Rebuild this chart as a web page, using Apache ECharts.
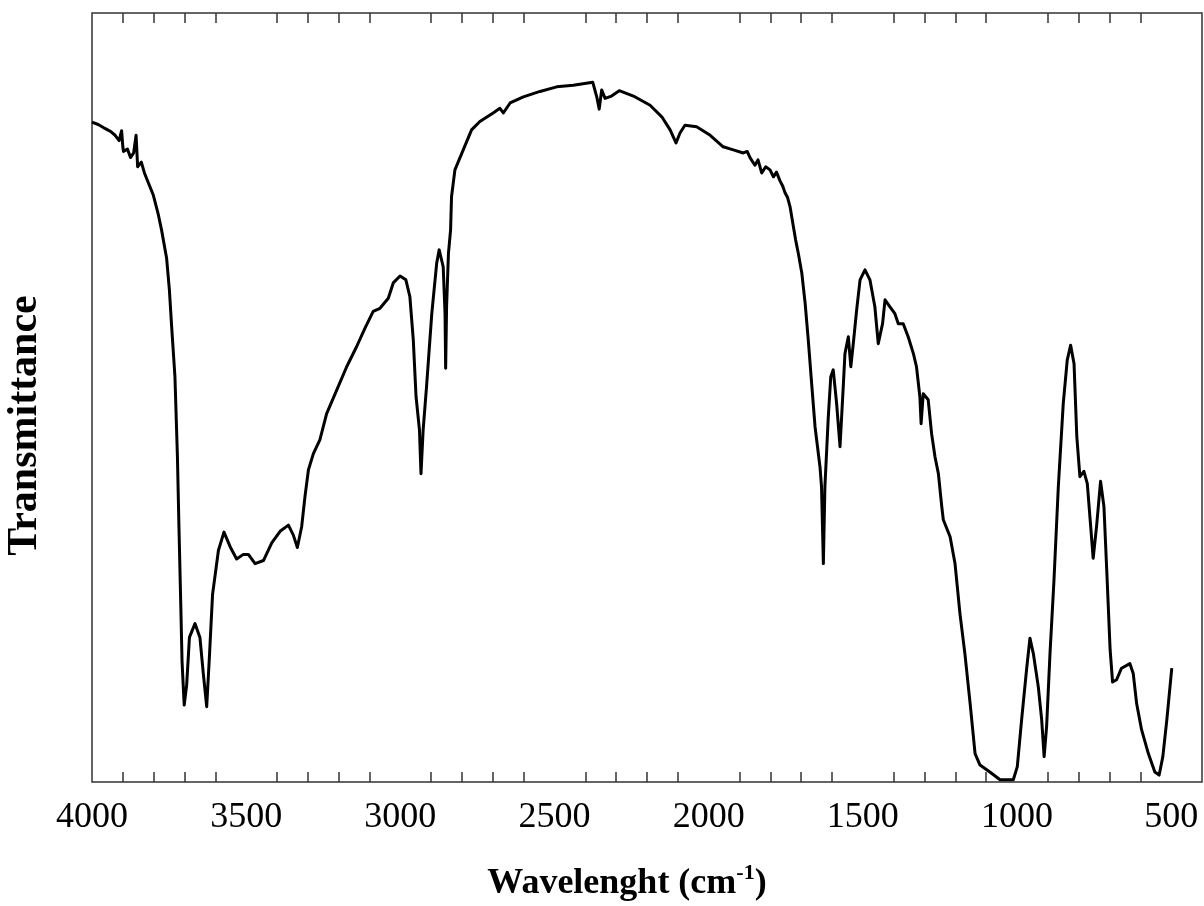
<!DOCTYPE html>
<html>
<head>
<meta charset="utf-8">
<script src="https://cdn.jsdelivr.net/npm/echarts@6/dist/echarts.min.js"></script>
<style>
  html, body { margin: 0; padding: 0; background: #fff; }
  #chart { width: 1204px; height: 906px; }
</style>
</head>
<body>
<div id="chart"></div>
<script>
// Wavenumbers (cm-1)
const waveNumbers = [
  4000, 3980, 3963, 3940, 3925, 3912, 3904, 3900, 3898, 3885, 3875, 3865, 3857, 3852, 3840, 3830,
  3817, 3801, 3785, 3774, 3758, 3749, 3742, 3731, 3723, 3718, 3712, 3708, 3701, 3693, 3684, 3666,
  3650, 3639, 3628, 3620, 3609, 3590, 3572, 3552, 3531, 3509, 3493, 3471, 3444, 3417, 3390, 3363,
  3347, 3334, 3320, 3309, 3298, 3282, 3261, 3239, 3206, 3174, 3142, 3115, 3088, 3066, 3039, 3023,
  3001, 2982, 2969, 2958, 2949, 2938, 2933, 2926, 2915, 2898, 2882, 2874, 2861, 2855, 2853, 2850,
  2844, 2837, 2834, 2823, 2796, 2769, 2742, 2699, 2677, 2666, 2644, 2601, 2547, 2493, 2439, 2376,
  2363, 2355, 2347, 2336, 2315, 2290, 2244, 2190, 2152, 2125, 2106, 2093, 2077, 2039, 1995, 1953,
  1920, 1888, 1875, 1866, 1850, 1840, 1828, 1815, 1801, 1790, 1780, 1769, 1760, 1752, 1744, 1736,
  1726, 1718, 1709, 1698, 1687, 1677, 1666, 1655, 1639, 1634, 1628, 1623, 1612, 1604, 1596, 1585,
  1574, 1563, 1558, 1547, 1539, 1531, 1520, 1509, 1493, 1477, 1461, 1450, 1436, 1428, 1412, 1396,
  1385, 1369, 1353, 1336, 1326, 1315, 1311, 1304, 1288, 1277, 1266, 1255, 1244, 1239, 1217, 1201,
  1185, 1169, 1152, 1136, 1120, 1088, 1055, 1012, 999, 985, 969, 958, 947, 931, 920, 912,
  904, 893, 880, 866, 850, 837, 826, 815, 806, 796, 783, 772, 761, 753, 742, 729,
  718, 709, 698, 690, 677, 661, 634, 623, 612, 596, 574, 553, 539, 527, 514, 498
];
// Transmittance (arbitrary units, 0 = bottom of frame, 100 = top)
const transmittance = [
  85.8, 85.5, 85.1, 84.6, 84.1, 83.4, 84.7, 82.6, 82.0, 82.3, 81.2, 81.8, 84.1, 80.0, 80.6, 79.2,
  77.9, 76.3, 73.8, 71.7, 68.1, 64.0, 59.4, 52.7, 42.4, 33.2, 22.9, 15.7, 10.0, 12.6, 18.8, 20.6,
  18.8, 14.1, 9.8, 15.7, 24.4, 30.1, 32.5, 30.6, 29.0, 29.6, 29.6, 28.4, 28.8, 31.1, 32.6, 33.4,
  32.1, 30.5, 33.2, 37.2, 40.6, 42.7, 44.5, 47.9, 51.0, 54.0, 56.6, 59.0, 61.2, 61.6, 62.9, 64.9,
  65.8, 65.3, 63.1, 57.5, 50.1, 45.8, 40.1, 45.8, 51.4, 60.9, 67.5, 69.2, 67.0, 60.9, 53.8, 61.8,
  68.7, 71.8, 76.1, 79.6, 82.2, 84.8, 85.9, 87.0, 87.6, 87.0, 88.3, 89.1, 89.8, 90.4, 90.6, 91.0,
  89.1, 87.5, 90.0, 88.9, 89.2, 89.9, 89.2, 88.0, 86.5, 84.8, 83.1, 84.4, 85.4, 85.2, 84.1, 82.6,
  82.2, 81.8, 82.0, 81.2, 80.2, 80.9, 79.2, 80.0, 79.6, 78.7, 79.3, 78.2, 77.5, 76.6, 76.0, 74.8,
  72.4, 70.5, 68.7, 66.2, 62.2, 57.5, 51.8, 46.2, 41.0, 38.4, 28.4, 38.4, 47.5, 52.7, 53.6, 49.2,
  43.6, 51.8, 55.7, 57.9, 54.0, 57.0, 61.4, 65.3, 66.6, 65.3, 61.8, 57.0, 59.6, 62.7, 61.8, 60.9,
  59.6, 59.6, 57.9, 55.7, 54.0, 50.1, 46.6, 50.5, 49.7, 45.3, 42.3, 40.1, 35.8, 34.1, 31.9, 28.4,
  21.9, 16.7, 10.2, 3.7, 2.2, 1.3, 0.3, 0.3, 2.0, 8.1, 14.6, 18.7, 16.7, 12.4, 8.1, 3.3,
  7.2, 16.7, 26.3, 38.4, 49.2, 54.9, 56.8, 54.4, 44.9, 39.7, 40.4, 38.8, 33.2, 29.1, 33.2, 39.1,
  35.8, 27.6, 17.2, 13.0, 13.3, 14.8, 15.4, 14.1, 10.2, 6.8, 3.7, 1.3, 0.9, 3.3, 8.1, 14.8
];
// Tick labels and minor tick positions
const tickLabels = [4000, 3500, 3000, 2500, 2000, 1500, 1000, 500];
const minorTicks = [];
for (let v = 500; v <= 3900; v += 100) { if (v % 500 !== 0) minorTicks.push(v); }

const seriesData = waveNumbers.map((w, i) => [w, transmittance[i]]);

const chart = echarts.init(document.getElementById('chart'), null, { renderer: 'canvas' });
const serif = '"Liberation Serif", "Times New Roman", serif';
chart.setOption({
  animation: false,
  backgroundColor: '#ffffff',
  grid: {
    left: 92, right: 2, top: 13, bottom: 124, containLabel: false, outerBoundsMode: 'none',
    show: true, borderColor: '#333', borderWidth: 1.5, backgroundColor: 'transparent'
  },
  xAxis: [
    {
      type: 'value', position: 'bottom', min: 400, max: 4000, inverse: true,
      axisLine: { show: false },
      splitLine: { show: false },
      axisTick: { show: true, inside: true, length: 10, customValues: minorTicks, lineStyle: { color: '#333', width: 1.5 } },
      axisLabel: {
        show: true, customValues: tickLabels, margin: 18, color: '#000', fontSize: 36, fontFamily: serif,
        formatter: v => String(v)
      },
      name: '{a|Wavelenght (cm}{b|-1}{a|)}',
      nameLocation: 'middle',
      nameGap: 80,
      nameTextStyle: {
        padding: [0, 40, 0, 0],
        rich: {
          a: { fontSize: 36, fontWeight: 'bold', fontFamily: serif, color: '#000', lineHeight: 44 },
          b: { fontSize: 22, fontWeight: 'bold', fontFamily: serif, color: '#000', lineHeight: 22, verticalAlign: 'top' }
        }
      }
    },
    {
      type: 'value', position: 'top', min: 400, max: 4000, inverse: true,
      axisLine: { show: false },
      splitLine: { show: false },
      axisTick: { show: true, inside: true, length: 10, customValues: minorTicks, lineStyle: { color: '#333', width: 1.5 } },
      axisLabel: { show: false }
    }
  ],
  yAxis: {
    type: 'value', min: 0, max: 100,
    axisLine: { show: false }, axisTick: { show: false }, axisLabel: { show: false }, splitLine: { show: false },
    name: 'Transmittance', nameLocation: 'middle', nameGap: 46, nameRotate: 90,
    nameTextStyle: { fontSize: 42, fontWeight: 'bold', fontFamily: serif, color: '#000', padding: [0, 56, 0, 0] }
  },
  series: [{
    type: 'line', xAxisIndex: 0, yAxisIndex: 0, data: seriesData,
    showSymbol: false, symbol: 'none', smooth: false,
    lineStyle: { color: '#000', width: 3, join: 'round' }
  }]
});
</script>
</body>
</html>
